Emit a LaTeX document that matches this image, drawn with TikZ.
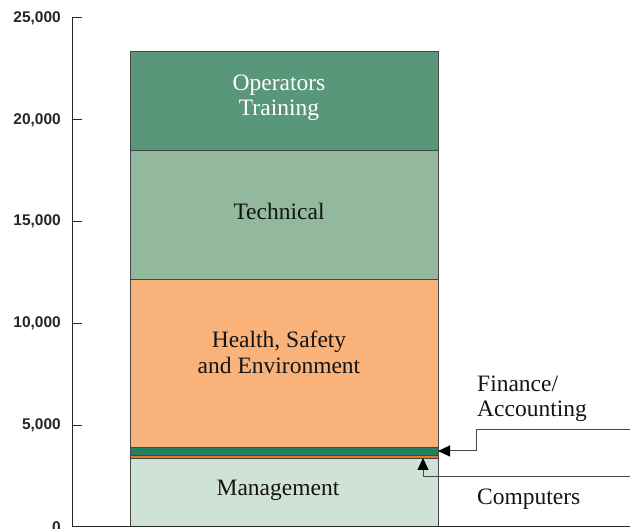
\documentclass[tikz,border=0pt]{standalone}
\usepackage{fontspec}
\newfontfamily\axisfont{Liberation Sans}
\newfontfamily\labfont{Liberation Serif}
\usetikzlibrary{arrows.meta}
\definecolor{opsC}{RGB}{89,151,123}
\definecolor{techC}{RGB}{146,185,158}
\definecolor{hseC}{RGB}{249,178,122}
\definecolor{finC}{RGB}{34,128,96}
\definecolor{compC}{RGB}{232,118,34}
\definecolor{mgmtC}{RGB}{207,226,214}
\definecolor{lineC}{RGB}{70,70,70}
\tikzset{
  seg/.style={draw=lineC, line width=0.7pt, rectangle, inner sep=0pt, outer sep=0pt,
    minimum width=308pt, anchor=north west},
  lbl/.style={font=\labfont\fontsize{23.5}{26}\selectfont, anchor=base, inner sep=0pt, text=black!92},
  sidelbl/.style={font=\labfont\fontsize{23.5}{26}\selectfont, anchor=base west, inner sep=0pt, text=black!92},
  axlbl/.style={font=\axisfont\bfseries\fontsize{15.5}{18}\selectfont, anchor=east, inner sep=0pt, text=black!85},
  axline/.style={draw=black!85, line width=1pt},
  conn/.style={draw=lineC, line width=1pt, -{Triangle[length=12pt,width=11pt,color=black]}},
}
\begin{document}
\begin{tikzpicture}[x=1pt,y=-1pt]
\useasboundingbox (0,0) rectangle (630,529);
% bar segments
\node[seg, fill=opsC,  minimum height=99pt]  (ops)  at (130,51) {};
\node[seg, fill=techC, minimum height=129pt] (tech) at (130,150) {};
\node[seg, fill=hseC,  minimum height=168pt] (hse)  at (130,279) {};
\node[seg, fill=finC,  minimum height=8pt]   (fin)  at (130,447) {};
\node[seg, fill=compC, minimum height=3pt, line width=0.4pt]   (comp) at (130,455) {};
\node[seg, fill=mgmtC, minimum height=68pt]  (mgmt) at (130,458) {};
% labels in bars
\node[lbl, text=white] (opsA) at (279,91) {Operators};
\node[lbl, text=white] (opsB) at (279,116) {Training};
\node[lbl] (techL) at (279,220) {Technical};
\node[lbl] (hseA) at (279,348) {Health, Safety};
\node[lbl] (hseB) at (279,374) {and Environment};
\node[lbl] (mgmtL) at (278,496) {Management};
% side labels
\node[sidelbl] (finA) at (477,392) {Finance/};
\node[sidelbl] (finB) at (477,417) {Accounting};
\node[sidelbl] (compL) at (477,505) {Computers};
% axes
\draw[axline] (72,18) -- (72,527) -- (630,527);
\foreach \v/\t in {25/{25,000},20/{20,000},15/{15,000},10/{10,000},5/{5,000},0/0}{
  \pgfmathsetmacro{\yy}{527-\v*20.36}
  \draw[axline] (72,\yy) -- (82,\yy);
  \node[axlbl] at (61,\yy) {\t};
}
% connectors
\coordinate (finEnd) at (630,430);
\coordinate (compEnd) at (630,477);
\draw[conn] (finEnd) -- ++(-154,0) |- (fin.east);
\draw[conn] (compEnd) -| ([xshift=-15pt]comp.south east);
\end{tikzpicture}
\end{document}
